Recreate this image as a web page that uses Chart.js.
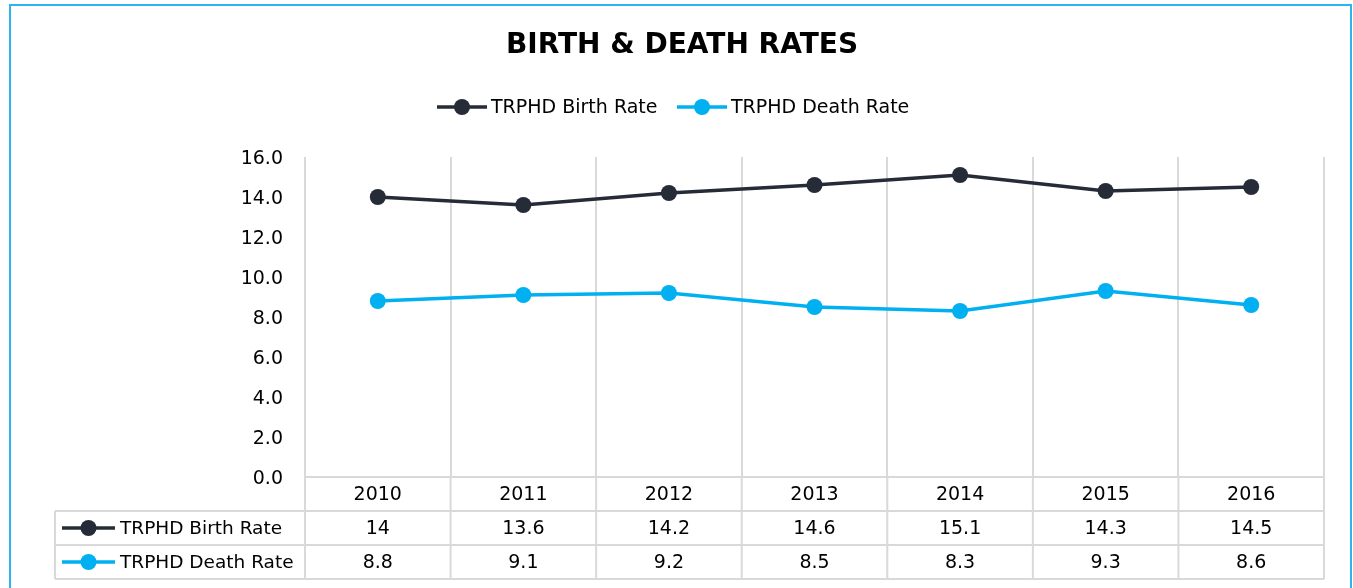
<!DOCTYPE html>
<html><head><meta charset="utf-8">
<script src="https://cdn.jsdelivr.net/npm/chart.js@4.4.1/dist/chart.umd.min.js"></script>
<style>html,body{margin:0;padding:0;background:#fff;overflow:hidden}#wrap{position:relative;width:1353px;height:588px}</style>
</head><body><div id="wrap"><canvas id="c" width="1353" height="588"></canvas></div>
<script>
const chartTitle = 'BIRTH & DEATH RATES';
const categories = ['2010', '2011', '2012', '2013', '2014', '2015', '2016'];
const birthRate = [14, 13.6, 14.2, 14.6, 15.1, 14.3, 14.5];
const deathRate = [8.8, 9.1, 9.2, 8.5, 8.3, 9.3, 8.6];
const seriesNames = ['TRPHD Birth Rate', 'TRPHD Death Rate'];
const seriesColors = ['#262b38', '#00b0f0'];
const yMin = 0, yMax = 16, yStep = 2;

const FONT = '"DejaVu Sans", sans-serif';
const GRID = '#d9d9d9';

function drawKey(ctx, x1, x2, y, color) {
  ctx.save();
  ctx.strokeStyle = color; ctx.lineWidth = 3.5; ctx.lineCap = 'butt';
  ctx.beginPath(); ctx.moveTo(x1, y); ctx.lineTo(x2, y); ctx.stroke();
  ctx.fillStyle = color;
  ctx.beginPath(); ctx.arc((x1 + x2) / 2, y, 8, 0, Math.PI * 2); ctx.fill();
  ctx.restore();
}

const decor = {
  id: 'decor',
  beforeDraw(chart) {
    const ctx = chart.ctx;
    ctx.save();
    ctx.fillStyle = '#fff'; ctx.fillRect(0, 0, chart.width, chart.height);
    ctx.restore();
  },
  afterDraw(chart) {
    const ctx = chart.ctx;
    const area = chart.chartArea;
    const xs = chart.scales.x;
    ctx.save();
    // frame
    ctx.strokeStyle = '#2bb5ef'; ctx.lineWidth = 2;
    ctx.strokeRect(10, 5, 1341, 640);
    // title
    ctx.fillStyle = '#000'; ctx.textAlign = 'center'; ctx.textBaseline = 'middle';
    ctx.font = 'bold 28px ' + FONT;
    ctx.fillText(chartTitle, 682, 46);
    // legend
    ctx.font = '19px ' + FONT; ctx.textAlign = 'left';
    const legendX = [437, 677];
    seriesNames.forEach((n, i) => {
      drawKey(ctx, legendX[i], legendX[i] + 50, 107, seriesColors[i]);
      ctx.fillStyle = '#000';
      ctx.fillText(n, legendX[i] + 54, 108);
    });
    // table
    const half = (xs.getPixelForValue(1) - xs.getPixelForValue(0)) / 2;
    const top = area.bottom, rowH = 34, leftX = 55;
    const rows = [top, top + rowH, top + 2 * rowH, top + 3 * rowH];
    ctx.strokeStyle = GRID; ctx.lineWidth = 2;
    const rightX = xs.getPixelForValue(categories.length - 1) + half;
    ctx.beginPath();
    for (let i = 0; i <= categories.length; i++) {
      const bx = xs.getPixelForValue(0) - half + i * 2 * half;
      ctx.moveTo(bx, top); ctx.lineTo(bx, rows[3]);
    }
    ctx.moveTo(leftX, rows[1]); ctx.lineTo(leftX, rows[3]);
    for (let r = 1; r <= 3; r++) { ctx.moveTo(leftX, rows[r]); ctx.lineTo(rightX, rows[r]); }
    ctx.stroke();
    ctx.fillStyle = '#000'; ctx.textAlign = 'center'; ctx.font = '19px ' + FONT;
    const series = [birthRate, deathRate];
    categories.forEach((c, i) => {
      const cx = xs.getPixelForValue(i);
      ctx.fillText(c, cx, rows[0] + rowH / 2 + 1);
      series.forEach((s, k) => ctx.fillText(String(s[i]), cx, rows[k + 1] + rowH / 2 + 1));
    });
    ctx.textAlign = 'left'; ctx.font = '18.5px ' + FONT;
    seriesNames.forEach((n, k) => {
      const cy = rows[k + 1] + rowH / 2;
      drawKey(ctx, 62, 115, cy, seriesColors[k]);
      ctx.fillStyle = '#000';
      ctx.fillText(n, 120, cy + 1);
    });
    ctx.restore();
  }
};

new Chart(document.getElementById('c'), {
  type: 'line',
  data: {
    labels: categories,
    datasets: [birthRate, deathRate].map((d, i) => ({
      label: seriesNames[i], data: d,
      borderColor: seriesColors[i], backgroundColor: seriesColors[i],
      borderWidth: 3.5, pointRadius: 8, pointBorderWidth: 0,
      pointBackgroundColor: seriesColors[i], tension: 0, clip: false
    }))
  },
  options: {
    responsive: false, animation: false, devicePixelRatio: 1,
    layout: { padding: { left: 0, right: 29, top: 157, bottom: 0 } },
    plugins: { legend: { display: false }, title: { display: false }, tooltip: { enabled: false } },
    scales: {
      x: {
        offset: true,
        grid: { offset: true, color: GRID, lineWidth: 2, drawTicks: false },
        border: { display: true, color: GRID, width: 2 },
        ticks: { display: false },
        afterFit(s) { s.height = 111; }
      },
      y: {
        min: yMin, max: yMax,
        grid: { display: false }, border: { display: false },
        ticks: { stepSize: yStep, padding: 14, labelOffset: 2, color: '#000', font: { family: FONT, size: 19 },
                 callback: v => Number(v).toFixed(1) },
        afterFit(s) { s.width = 305; }
      }
    }
  },
  plugins: [decor]
});
</script></body></html>
